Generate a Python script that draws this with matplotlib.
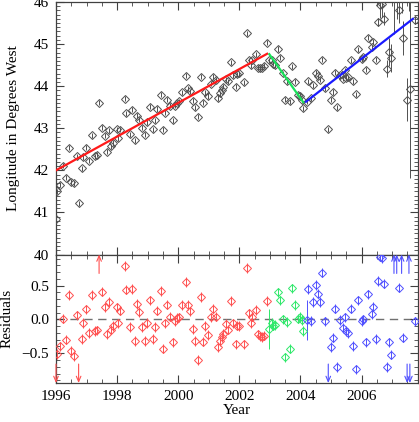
import numpy as np
import matplotlib
matplotlib.use("Agg")
import matplotlib.pyplot as plt
from matplotlib.ticker import MultipleLocator, FixedLocator

plt.rcParams['font.family'] = ['Liberation Serif', 'DejaVu Serif']
plt.rcParams['font.size'] = 11

# ---- fitted piecewise model ----
fit_t_red = [1996.0, 2002.91]
fit_y_red = [42.00, 44.77]
fit_t_green = [2002.98, 2004.09]
fit_y_green = [44.76, 43.62]
fit_t_blue = [2004.18, 2007.68]
fit_y_blue = [43.63, 45.60]

# ---- residuals (deg) ----
t_red = [1996.00, 1996.02, 1996.13, 1996.24, 1996.32, 1996.43, 1996.48, 1996.59, 1996.68, 1996.74,
         1996.84, 1996.89, 1996.97, 1997.08, 1997.17, 1997.27, 1997.33, 1997.41, 1997.49, 1997.60,
         1997.66, 1997.74, 1997.80, 1997.87, 1997.98, 1998.04, 1998.09, 1998.26, 1998.29, 1998.41,
         1998.48, 1998.58, 1998.66, 1998.73, 1998.80, 1998.91, 1998.97, 1999.07, 1999.16, 1999.24,
         1999.31, 1999.42, 1999.49, 1999.56, 1999.64, 1999.73, 1999.82, 1999.89, 1999.97, 2000.03,
         2000.11, 2000.24, 2000.33, 2000.38, 2000.47, 2000.55, 2000.66, 2000.73, 2000.82, 2000.87,
         2000.98, 2001.06, 2001.15, 2001.23, 2001.31, 2001.36, 2001.42, 2001.47, 2001.56, 2001.64,
         2001.73, 2001.80, 2001.89, 2001.93, 2001.99, 2002.15, 2002.24, 2002.31, 2002.37, 2002.42,
         2002.54, 2002.62, 2002.68, 2002.74, 2002.80, 2002.89]
r_red = [-1.15, -0.51, -0.40, 0.01, -0.30, 0.36, -0.47, -0.54, 0.06, -1.08,
         -0.29, -0.05, 0.15, -0.20, 0.36, -0.17, -0.16, 1.04, 0.41, 0.18,
         -0.22, 0.26, -0.15, -0.10, 0.18, -0.06, 0.13, 0.79, 0.44, -0.11,
         0.45, -0.32, 0.23, 0.11, -0.11, -0.32, -0.05, 0.28, -0.29, -0.11,
         0.13, 0.42, -0.43, -0.06, 0.22, 0.04, -0.34, -0.02, 0.02, 0.03,
         0.21, 0.55, 0.21, 0.12, -0.14, -0.32, -0.60, 0.33, -0.33, -0.10,
         -0.23, 0.03, 0.16, 0.04, -0.41, -0.32, -0.26, -0.21, -0.07, -0.15,
         0.27, -0.06, -0.37, -0.09, -0.10, -0.37, 0.76, 0.09, -0.05, 0.04,
         0.14, -0.22, -0.25, -0.26, -0.24, 0.27]

t_green = [2002.98, 2003.06, 2003.11, 2003.16, 2003.25, 2003.33, 2003.42, 2003.49, 2003.57, 2003.65,
           2003.71, 2003.82, 2003.93, 2003.98, 2004.04, 2004.07]
r_green = [-0.14, -0.05, -0.09, -0.08, 0.40, 0.28, 0.00, -0.56, -0.04, -0.43,
           0.46, 0.21, 0.01, 0.04, -0.01, -0.17]

t_blue = [2004.20, 2004.25, 2004.36, 2004.42, 2004.50, 2004.58, 2004.64, 2004.72, 2004.81, 2004.91,
          2004.99, 2005.07, 2005.13, 2005.20, 2005.31, 2005.38, 2005.45, 2005.49, 2005.56, 2005.64,
          2005.73, 2005.81, 2005.89, 2006.00, 2006.05, 2006.13, 2006.22, 2006.33, 2006.38, 2006.47,
          2006.54, 2006.60, 2006.67, 2006.74, 2006.82, 2006.90, 2006.96, 2007.06, 2007.15, 2007.22,
          2007.31, 2007.36, 2007.49, 2007.55, 2007.58, 2007.74]
r_blue = [-0.01, 0.45, -0.02, 0.26, 0.51, 0.38, 0.26, 0.69, -0.03, -1.07,
          -0.41, -0.27, 0.16, -0.70, -0.01, -0.13, 0.03, -0.17, -0.20, 0.16,
          -0.39, -0.74, 0.28, -0.02, 0.00, -0.34, 0.37, 0.08, 0.19, -0.29,
          0.57, 0.93, 0.91, 0.53, -0.70, -0.34, -0.52, 1.00, 1.10, 0.47,
          1.05, -0.27, -1.81, 1.15, -1.62, -0.03]

# uncertainties (deg) for the upper panel
e_red = [0.06] * len(t_red)
e_green = [0.06] * len(t_green)
e_blue = [0.06] * 30 + [0.10, 0.30, 0.30, 0.15, 0.20, 0.33, 0.33, 1.00, 0.80, 0.30,
                        0.70, 0.40, 0.50, 0.90, 2.10, 0.10]
# uncertainties shown in the residual panel
re_red = [0.07] * len(t_red)
re_green = [0.30] + [0.07] * (len(t_green) - 1)
re_blue = [0.30] + [0.07] * (len(t_blue) - 1)

segments = [
    (t_red, r_red, e_red, re_red, fit_t_red, fit_y_red, '#ff1a1a', '#ff5050'),
    (t_green, r_green, e_green, re_green, fit_t_green, fit_y_green, '#19e35a', '#2ee86a'),
    (t_blue, r_blue, e_blue, re_blue, fit_t_blue, fit_y_blue, '#1a1aff', '#5050ff'),
]

fig = plt.figure(figsize=(4.19, 4.22), dpi=100)
L, R = 56 / 419, 417.5 / 419
ax1 = fig.add_axes([L, 1 - 254.5 / 422, R - L, (254.5 - 2) / 422])
ax2 = fig.add_axes([L, 1 - 383 / 422, R - L, (383 - 254.5) / 422])

XMIN, XMAX = 1996.0, 2007.83
RLO, RHI = -0.94, 0.96

for (t, r, e, re, ft, fy, lc, mc) in segments:
    t = np.asarray(t)
    r = np.asarray(r)
    model = np.interp(t, ft, fy)
    lon = model + r
    ax1.errorbar(t, lon, yerr=e, fmt='D', ms=4.0, mfc='none', mec='#505050', mew=0.7,
                 ecolor='#505050', elinewidth=0.7, capsize=0, zorder=3, clip_on=True)
    ax1.plot(ft, fy, color=lc, lw=1.6, zorder=4)

    inside = (r > RLO) & (r < RHI)
    ax2.errorbar(t[inside], r[inside], yerr=np.asarray(re)[inside], fmt='D', ms=4.0,
                 mfc='none', mec=mc, mew=0.7, ecolor=mc, elinewidth=0.7, capsize=0, zorder=3)
    for ti, ri in zip(t[~inside], r[~inside]):
        if ri > 0:
            ax2.annotate('', xy=(ti, RHI), xytext=(ti, RHI - 0.28),
                         arrowprops=dict(arrowstyle='->,head_length=0.35,head_width=0.15',
                                         color=mc, lw=0.8, shrinkA=0, shrinkB=0), zorder=3)
        else:
            ax2.annotate('', xy=(ti, RLO), xytext=(ti, RLO + 0.28),
                         arrowprops=dict(arrowstyle='->,head_length=0.35,head_width=0.15',
                                         color=mc, lw=0.8, shrinkA=0, shrinkB=0), zorder=3)

ax2.axhline(0.0, color='#707070', lw=1.0, ls=(0, (6, 4)), zorder=1)

ax1.set_xlim(XMIN, XMAX)
ax1.set_ylim(40, 46)
ax2.set_xlim(XMIN, XMAX)
ax2.set_ylim(RLO, RHI)

year_ticks = [1996, 1998, 2000, 2002, 2004, 2006]
for ax in (ax1, ax2):
    ax.xaxis.set_major_locator(FixedLocator(year_ticks))
    ax.xaxis.set_minor_locator(MultipleLocator(0.5))
    ax.tick_params(which='both', direction='in', top=True, right=True, color='#404040')
    ax.tick_params(which='major', length=6, width=0.8, labelsize=11, pad=5)
    ax.tick_params(which='minor', length=3, width=0.6)
    for s in ax.spines.values():
        s.set_color('#404040')
        s.set_linewidth(0.9)

ax1.yaxis.set_minor_locator(MultipleLocator(0.1))
ax1.tick_params(labelbottom=False)
ax1.set_yticks([40, 41, 42, 43, 44, 45, 46])
ax1.set_yticklabels(['40', '41', '42', '43', '44', '45', '46'])

ax2.set_yticks([-0.5, 0.0, 0.5])
ax2.set_yticklabels(['\u22120.5', '0.0', '0.5'])
ax2.yaxis.set_minor_locator(MultipleLocator(0.1))
ax2.set_xticklabels([str(y) for y in year_ticks])

ax1.set_ylabel('Longitude in Degrees West', fontsize=11)
ax1.yaxis.set_label_coords(-0.0996, 0.5)
ax2.set_ylabel('Residuals', fontsize=11)
ax2.yaxis.set_label_coords(-0.118, 0.5)
ax2.set_xlabel('Year', fontsize=11, labelpad=1)

fig.savefig('out.png', dpi=100)
